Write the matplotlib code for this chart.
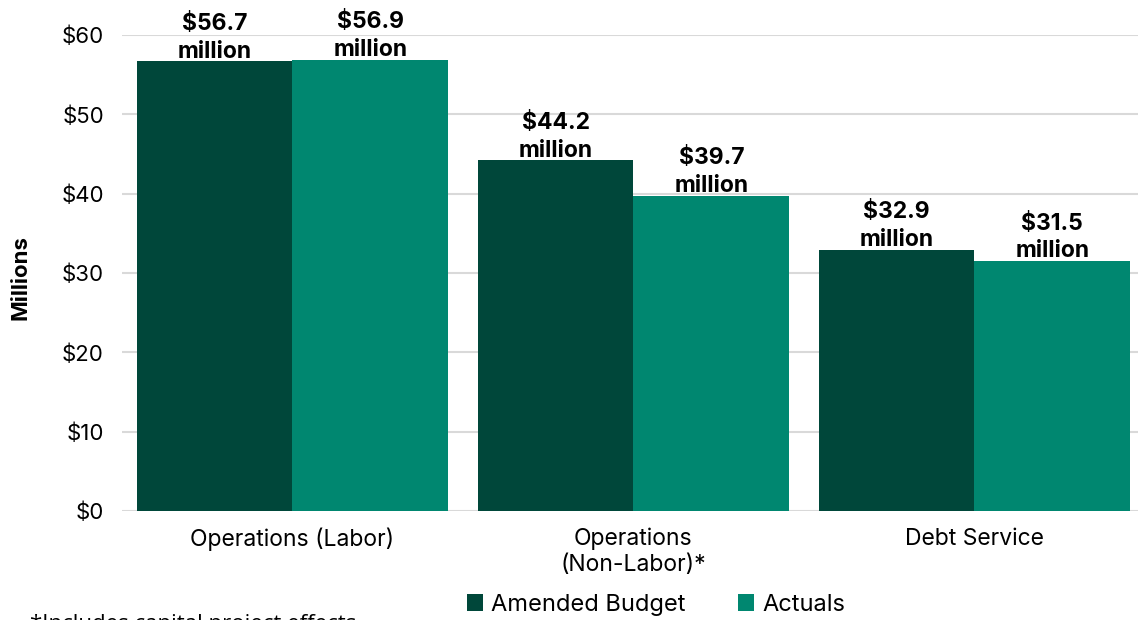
import numpy as np
import matplotlib.pyplot as plt

categories = ["Operations (Labor)", "Operations\n(Non-Labor)*", "Debt Service"]
amended = [56.7, 44.2, 32.9]
actuals = [56.9, 39.7, 31.5]
yticks = [0, 10, 20, 30, 40, 50, 60]

dark = "#00473a"
light = "#008770"

plt.rcParams['font.family'] = ['Inter', 'DejaVu Sans']

fig = plt.figure(figsize=(11.38, 6.2), dpi=100)
ax = fig.add_axes([122 / 1138, 109 / 620, 1 - 122 / 1138, 476 / 620])

x = np.arange(len(categories))
w = 0.457
b1 = ax.bar(x - w / 2, amended, w, color=dark, label="Amended Budget")
b2 = ax.bar(x + w / 2, actuals, w, color=light, label="Actuals")

for bars, vals in [(b1, amended), (b2, actuals)]:
    for bar, v in zip(bars, vals):
        ax.annotate(f"${v}\nmillion", (bar.get_x() + bar.get_width() / 2, v),
                    xytext=(0, -1), textcoords="offset points", ha="center", va="bottom",
                    fontsize=16.5, fontweight="bold", linespacing=1.35)

ax.set_ylim(0, 60)
ax.set_xlim(-0.5, 2.48)
ax.set_yticks(yticks)
ax.set_yticklabels([f"${t}" for t in yticks], fontsize=16)
ax.set_xticks(x)
ax.set_xticklabels(categories, fontsize=16.5, linespacing=1.25)
ax.tick_params(axis="both", length=0)
ax.tick_params(axis="y", pad=13)
ax.tick_params(axis="x", pad=12)
ax.yaxis.grid(True, color="#d9d9d9", linewidth=1.5)
ax.set_axisbelow(True)
for s in ax.spines.values():
    s.set_visible(False)

ax.set_ylabel("Millions", fontsize=16, fontweight="bold")
ax.yaxis.set_label_coords(-0.09, 0.49)

ax.legend(loc="center", bbox_to_anchor=(656 / 1138, 15 / 620), bbox_transform=fig.transFigure,
          ncol=2, frameon=False, fontsize=17, handlelength=0.7, handleheight=0.7,
          handletextpad=0.35, columnspacing=2.2)

fig.text(30 / 1138, 6 / 620, "*Includes capital project effects", fontsize=16,
         family=["Open Sans", "DejaVu Sans"], va="top")

fig.savefig("out.png", dpi=100)
